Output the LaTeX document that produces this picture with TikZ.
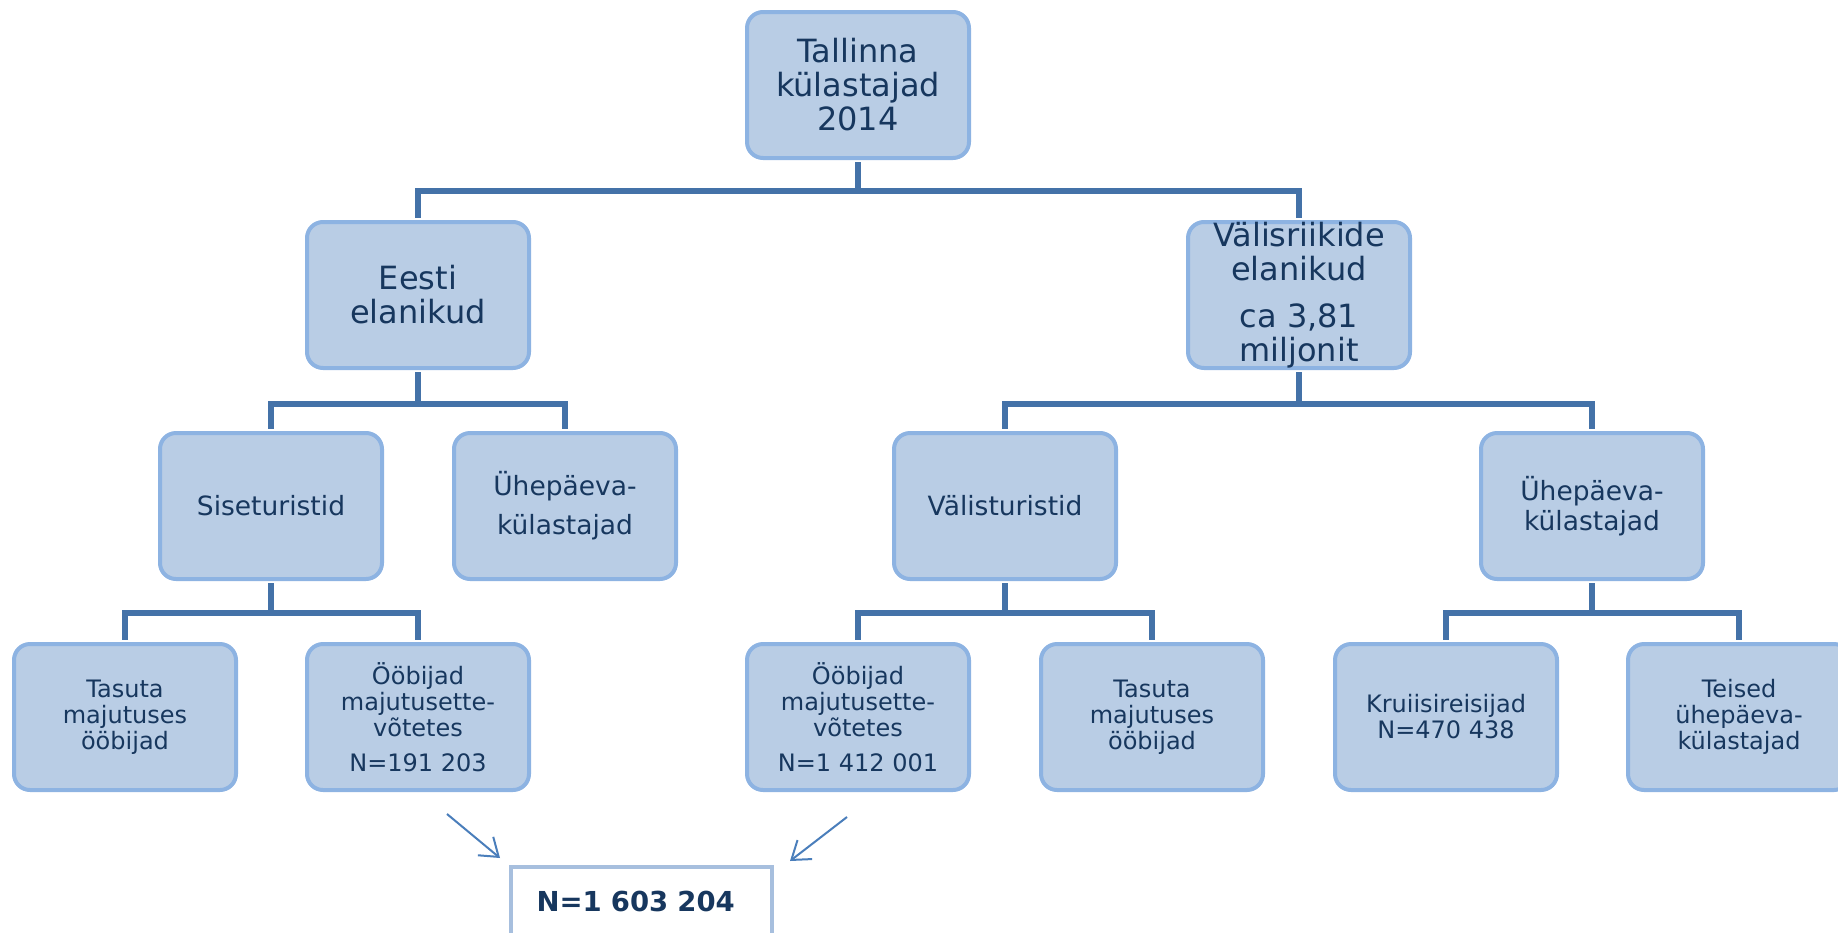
\documentclass[tikz,border=0pt]{standalone}
\usepackage{fontspec}
\setmainfont{DejaVu Sans}
\usepackage{xcolor}
\usetikzlibrary{arrows.meta}

\begin{document}
\begin{tikzpicture}[x=1pt, y=-1pt,
		box/.style={draw=BOXLINE, fill=BOXFILL, line width=4pt, rounded corners=16pt, minimum width=222pt, minimum height=146pt, inner sep=0pt, align=center, text=NAVY},
		big/.style={font=\fontsize{32}{34}\selectfont},
		mid/.style={font=\fontsize{26.5}{30}\selectfont},
		small/.style={font=\fontsize{24}{26}\selectfont},
		total/.style={draw=TOTALLINE, fill=white, line width=4pt, minimum width=261pt, minimum height=74pt, text width=210pt, align=left, text=NAVY, font=\bfseries\fontsize{27.5}{30}\selectfont},
		link/.style={draw=LINK, line width=5.5pt, shorten <=2pt, shorten >=2pt},
		pointer/.style={draw=ARROW, line width=2pt, -{Straight Barb[length=17pt, width=24pt]}}]
			\definecolor{BOXFILL}{RGB}{185, 205, 229}
			\definecolor{BOXLINE}{RGB}{141, 179, 226}
			\definecolor{NAVY}{RGB}{23, 55, 94}
			\definecolor{LINK}{RGB}{68, 114, 168}
			\definecolor{ARROW}{RGB}{74, 126, 187}
			\definecolor{TOTALLINE}{RGB}{167, 191, 222}
			\useasboundingbox (0, 0) rectangle (1838, 932);
			\clip (0, 0) rectangle (1838, 932);
			% top and first level
			\node[box, big] (tallinn) at ( 858,  85) {Tallinna\\külastajad\\2014};
			\node[box, big] (eesti)   at ( 418, 295) {Eesti\\elanikud};
			\node[box, big] (valis)   at (1299, 295) {Välisriikide\\elanikud\\[13pt]ca 3,81\\miljonit};
			% second level
			\node[box, mid] (sise)    at ( 271, 506) {Siseturistid};
			\node[box, mid] (eyhe)    at ( 565, 506) {Ühepäeva-\\[9pt]külastajad};
			\node[box, mid] (valtur)  at (1005, 506) {Välisturistid};
			\node[box, mid] (vyhe)    at (1592, 506) {Ühepäeva-\\külastajad};
			% third level
			\node[box, small] (etasuta) at ( 125, 717) {Tasuta\\majutuses\\ööbijad};
			\node[box, small] (eoobi)   at ( 418, 717) {Ööbijad\\majutusette-\\võtetes\\[9pt]N=191 203};
			\node[box, small] (voobi)   at ( 858, 717) {Ööbijad\\majutusette-\\võtetes\\[9pt]N=1 412 001};
			\node[box, small] (vtasuta) at (1152, 717) {Tasuta\\majutuses\\ööbijad};
			\node[box, small] (kruiis)  at (1446, 717) {Kruiisireisijad\\N=470 438};
			\node[box, small] (teised)  at (1739, 717) {Teised\\ühepäeva-\\külastajad};
			% sum
			\node[total] (summa) at (641.5, 904) {\raisebox{6pt}{N=1 603 204}};
			\coordinate (fromeesti) at (447, 814);
			\coordinate (toeesti)   at (500, 858);
			\coordinate (fromvalis) at (847, 817);
			\coordinate (tovalis)   at (790, 861);
			% tree lines
			\draw[link] (tallinn.south) -- ++(0, 31) -| (eesti.north);
			\draw[link] (tallinn.south) -- ++(0, 31) -| (valis.north);
			\draw[link] (eesti.south) -- ++(0, 34) -| (sise.north);
			\draw[link] (eesti.south) -- ++(0, 34) -| (eyhe.north);
			\draw[link] (valis.south) -- ++(0, 34) -| (valtur.north);
			\draw[link] (valis.south) -- ++(0, 34) -| (vyhe.north);
			\draw[link] (sise.south) -- ++(0, 32) -| (etasuta.north);
			\draw[link] (sise.south) -- ++(0, 32) -| (eoobi.north);
			\draw[link] (valtur.south) -- ++(0, 32) -| (voobi.north);
			\draw[link] (valtur.south) -- ++(0, 32) -| (vtasuta.north);
			\draw[link] (vyhe.south) -- ++(0, 32) -| (kruiis.north);
			\draw[link] (vyhe.south) -- ++(0, 32) -| (teised.north);
			% arrows to the sum
			\draw[pointer] (fromeesti) -- (toeesti);
			\draw[pointer] (fromvalis) -- (tovalis);
		\end{tikzpicture}
\end{document}
